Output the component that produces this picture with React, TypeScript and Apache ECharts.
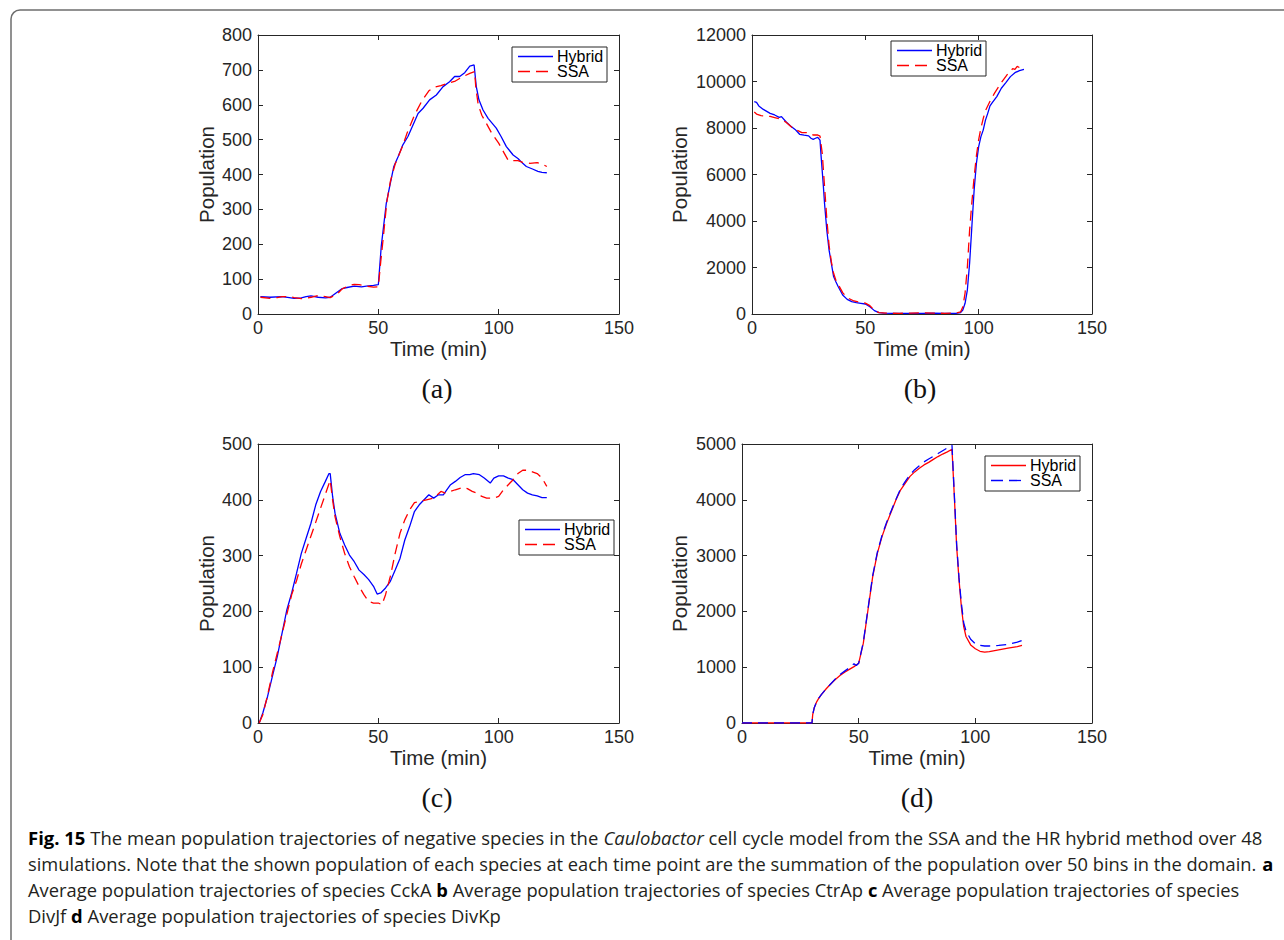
import React, { useEffect, useRef } from "react";
import * as echarts from "echarts";

// ---------- data ----------
const timeTicks = [0, 50, 100, 150];

// (a) CckA
const aHybridT = [1, 5, 10, 13, 15, 18, 20, 22, 25, 28, 30, 32, 35, 37, 40, 43, 45, 48, 50, 51.2, 53.3, 54.7, 56.4, 58.2, 60.2, 62.3, 64.4, 66.5, 68.6, 71.3, 74.1, 76.9, 79.6, 81.7, 83.8, 85.9, 88, 89.8, 90.7, 91.8, 93.5, 95.6, 99, 101, 103.2, 106, 108, 110, 111.5, 114.3, 116.3, 118, 120];
const aHybridV = [50, 48, 50, 47, 45, 46, 50, 52, 48, 46, 48, 58, 73, 76, 80, 78, 80, 82, 84, 193, 317, 365, 422, 451, 485, 509, 542, 575, 590, 614, 628, 652, 666, 681, 681, 692, 711, 714, 652, 614, 585, 561, 533, 509, 480, 456, 446, 432, 423, 415, 409, 406, 405];
const aSsaT = [1, 5, 8, 10, 13, 15, 18, 20, 22, 25, 28, 30, 33, 35, 38, 40, 42, 45, 48, 50, 51, 52, 53.5, 55, 57, 60, 62, 65, 68, 71, 73, 76, 79, 82, 85, 88, 90, 90.5, 91.5, 93, 95, 97, 100, 102, 104, 106, 108, 110, 113, 116, 118, 120];
const aSsaV = [48, 45, 47, 50, 50, 47, 44, 45, 48, 53, 50, 47, 58, 72, 82, 85, 84, 80, 77, 78, 150, 215, 320, 380, 430, 480, 520, 570, 610, 640, 650, 655, 662, 668, 680, 690, 695, 650, 600, 570, 545, 520, 490, 465, 440, 440, 440, 435, 432, 434, 430, 423];

// (b) CtrAp
const bHybridT = [1, 2, 3, 5, 8, 10, 12, 13, 15, 17, 19, 20, 21, 23, 25, 26, 27, 28, 29, 30, 30.5, 31.5, 32, 33, 34, 35, 36, 37, 38, 40, 42, 44, 46, 48, 50, 52, 54, 56, 58, 62, 66, 70, 75, 80, 85, 90, 92, 93, 94, 95, 96, 97, 98, 99, 100, 101, 102, 103, 104, 105, 106, 108, 110, 112, 114, 116, 118, 120];
const bHybridV = [9130, 9100, 8950, 8800, 8630, 8560, 8460, 8490, 8270, 8090, 7940, 7840, 7730, 7690, 7660, 7560, 7510, 7560, 7600, 7480, 6770, 5480, 4760, 3610, 2750, 2180, 1610, 1390, 1180, 820, 630, 530, 490, 460, 430, 315, 145, 60, 40, 30, 25, 25, 30, 40, 30, 30, 60, 170, 460, 1030, 2180, 3760, 5330, 6480, 7200, 7630, 7910, 8340, 8630, 8950, 9090, 9350, 9710, 9950, 10210, 10380, 10470, 10520];
const bSsaT = [1, 2, 4, 6, 8, 10, 12, 15, 18, 20, 22, 24, 25, 27, 29, 30, 31, 32, 33, 34, 35, 36, 37, 40, 42, 45, 48, 50, 52, 54, 56, 60, 65, 70, 75, 80, 85, 90, 92, 93, 94, 95, 96, 97, 98, 99, 100, 101, 102, 103, 105, 107, 110, 113, 115, 116, 117, 118, 119, 120];
const bSsaV = [8690, 8600, 8530, 8520, 8500, 8450, 8400, 8250, 8000, 7900, 7800, 7800, 7750, 7700, 7700, 7650, 6900, 5500, 4100, 2950, 2250, 1750, 1450, 920, 700, 560, 500, 470, 360, 160, 60, 35, 30, 40, 55, 35, 30, 40, 90, 300, 900, 2000, 3600, 4800, 5900, 6800, 7500, 8000, 8400, 8750, 9150, 9500, 9950, 10350, 10550, 10520, 10650, 10600, 10700, 10680];

// (c) DivJf
const cHybridT = [0.5, 2, 4, 6, 8, 10, 12, 14, 16, 18, 20, 22, 24, 26, 28, 29.5, 30, 31, 32, 34, 36, 38, 40, 42, 44, 46, 48, 49.5, 51, 53, 55, 57, 59, 61, 63, 65, 67, 69, 71, 73, 75, 77, 78, 80, 82, 84, 86, 88, 89.5, 92, 94, 96.5, 98, 100, 102, 104, 106, 108, 110, 112, 114, 116, 118, 120];
const cHybridV = [0, 18, 48, 84, 119, 161, 203, 233, 268, 304, 331, 358, 391, 415, 433, 447, 447, 406, 376, 340, 319, 301, 289, 274, 266, 257, 245, 231, 233, 242, 254, 274, 295, 328, 352, 379, 391, 400, 409, 403, 409, 409, 415, 427, 433, 440, 445, 445, 447, 445, 439, 430, 439, 443, 443, 439, 436, 427, 418, 412, 409, 407, 404, 404];
const cSsaT = [0.5, 2, 4, 6, 8, 10, 12, 14, 16, 18, 20, 22, 24, 26, 28, 30, 31, 32, 34, 36, 38, 40, 42, 44, 46, 48, 50, 51.5, 53, 55, 57, 59, 61, 63, 65, 67, 70, 73, 76, 78, 80, 82, 85, 87, 89, 91, 93, 95, 98, 100, 102, 104, 106, 108, 110, 112, 114, 116, 118, 120];
const cSsaV = [0, 15, 50, 90, 125, 160, 195, 230, 255, 285, 310, 335, 360, 385, 410, 435, 400, 370, 334, 304, 280, 262, 245, 230, 218, 215, 215, 212, 230, 263, 304, 340, 364, 382, 395, 397, 400, 403, 415, 412, 415, 418, 422, 420, 415, 412, 406, 403, 403, 406, 418, 427, 436, 447, 453, 453, 450, 447, 439, 424];

// (d) DivKp
const dHybridT = [0, 10, 20, 30, 30.3, 31, 32, 33, 34, 36, 38, 40, 42, 44, 46, 48, 50, 52, 54, 56, 58, 60, 62, 64, 66, 68, 70, 72, 74, 76, 78, 80, 82, 84, 86, 88, 90, 91, 92, 93, 94, 95, 96, 98, 100, 102, 104, 106, 110, 114, 118, 120];
const dHybridV = [0, 0, 0, 0, 150, 280, 380, 450, 510, 610, 700, 780, 850, 910, 960, 1010, 1070, 1430, 2030, 2620, 3040, 3340, 3580, 3790, 4000, 4180, 4300, 4420, 4500, 4565, 4625, 4670, 4725, 4775, 4820, 4860, 4905, 4060, 3160, 2570, 2090, 1730, 1550, 1400, 1330, 1285, 1270, 1280, 1310, 1340, 1370, 1390];
const dSsaT = [0, 10, 20, 30, 30.3, 31, 32, 33, 34, 36, 38, 40, 42, 44, 46, 48, 49, 50, 52, 54, 56, 58, 60, 62, 64, 66, 68, 70, 72, 74, 76, 78, 80, 82, 84, 86, 88, 90, 91, 92, 93, 94, 95, 96, 98, 100, 102, 104, 106, 110, 114, 118, 120];
const dSsaV = [0, 0, 0, 0, 150, 280, 380, 450, 510, 610, 700, 790, 870, 930, 990, 1060, 1030, 1070, 1450, 2050, 2640, 3060, 3360, 3600, 3810, 4010, 4200, 4330, 4450, 4540, 4610, 4680, 4730, 4780, 4830, 4880, 4930, 4975, 4100, 3200, 2600, 2150, 1800, 1650, 1500, 1420, 1390, 1380, 1380, 1390, 1410, 1450, 1480];

const panelLabels = ["(a)", "(b)", "(c)", "(d)"];
const legendNames = ["Hybrid", "SSA"];
const yMaxes = [800, 12000, 500, 5000];
const yIntervals = [100, 2000, 100, 1000];

type Seg = { t: string; s: "n" | "b" | "i" };
const captionLines: Seg[][] = [
  [{ t: "Fig. 15", s: "b" }, { t: " The mean population trajectories of negative species in the ", s: "n" }, { t: "Caulobactor", s: "i" }, { t: " cell cycle model from the SSA and the HR hybrid method over 48", s: "n" }],
  [{ t: "simulations. Note that the shown population of each species at each time point are the summation of the population over 50 bins in the domain. ", s: "n" }, { t: "a", s: "b" }],
  [{ t: "Average population trajectories of species CckA ", s: "n" }, { t: "b", s: "b" }, { t: " Average population trajectories of species CtrAp ", s: "n" }, { t: "c", s: "b" }, { t: " Average population trajectories of species", s: "n" }],
  [{ t: "DivJf ", s: "n" }, { t: "d", s: "b" }, { t: " Average population trajectories of species DivKp", s: "n" }],
];
const captionRight = [1263, 1273, 1239, 501];

// ---------- layout ----------
const grids = [
  { left: 258, top: 35, width: 361, height: 279 },
  { left: 752, top: 35, width: 340, height: 279 },
  { left: 258, top: 444, width: 361, height: 279 },
  { left: 742, top: 444, width: 350, height: 279 },
];
const yNameGaps = [41, 62, 41, 52];
const labelPos = [
  [437, 388],
  [920, 388],
  [437, 797],
  [917, 797],
];
const legendBoxes = [
  [512, 47],
  [891, 41],
  [519, 520],
  [985, 456],
];

const BLUE = "#0000ff";
const RED = "#ff0000";
const AX = "#262626";
const DASH = [10, 6];

function zip(t: number[], v: number[]) {
  return t.map((x, i) => [x, v[i]]);
}

export default function App() {
  const ref = useRef<HTMLDivElement>(null);
  useEffect(() => {
    if (!ref.current) return;
    const chart = echarts.init(ref.current, null, { renderer: "svg" });

    const data = [
      [zip(aHybridT, aHybridV), zip(aSsaT, aSsaV)],
      [zip(bHybridT, bHybridV), zip(bSsaT, bSsaV)],
      [zip(cHybridT, cHybridV), zip(cSsaT, cSsaV)],
      [zip(dHybridT, dHybridV), zip(dSsaT, dSsaV)],
    ];
    const colors = [
      [BLUE, RED],
      [BLUE, RED],
      [BLUE, RED],
      [RED, BLUE],
    ];

    const xAxis: any[] = [];
    const yAxis: any[] = [];
    const series: any[] = [];
    grids.forEach((g, i) => {
      const common = {
        gridIndex: i,
        type: "value",
        axisLine: { show: true, onZero: false, lineStyle: { color: AX, width: 1 } },
        axisTick: { show: true, inside: true, length: 5, lineStyle: { color: AX } },
        splitLine: { show: false },
      };
      xAxis.push({
        ...common,
        position: "bottom",
        min: 0,
        max: 150,
        interval: 50,
        name: "Time (min)",
        nameLocation: "middle",
        nameGap: 24,
        nameTextStyle: { fontFamily: "Liberation Sans", fontSize: 20.5, color: AX },
        axisLabel: { fontFamily: "Liberation Sans", fontSize: 18, color: AX, margin: 5, formatter: (v: number) => String(v) },
      });
      xAxis.push({ ...common, position: "top", min: 0, max: 150, interval: 50, axisLabel: { show: false } });
      yAxis.push({
        ...common,
        position: "left",
        min: 0,
        max: yMaxes[i],
        interval: yIntervals[i],
        name: "Population",
        nameLocation: "middle",
        nameGap: yNameGaps[i],
        nameTextStyle: { fontFamily: "Liberation Sans", fontSize: 20.5, color: AX },
        axisLabel: { fontFamily: "Liberation Sans", fontSize: 18, color: AX, margin: 6, formatter: (v: number) => String(v) },
      });
      yAxis.push({ ...common, position: "right", min: 0, max: yMaxes[i], interval: yIntervals[i], axisLabel: { show: false } });

      legendNames.forEach((nm, k) => {
        series.push({
          type: "line",
          name: nm,
          xAxisIndex: i * 2,
          yAxisIndex: i * 2,
          data: data[i][k],
          showSymbol: false,
          symbol: "none",
          lineStyle: { color: colors[i][k], width: 1.3, type: k === 0 ? "solid" : DASH },
          itemStyle: { color: colors[i][k] },
          z: 2 + k,
        });
      });
    });

    const graphic: any[] = [];
    // outer rounded frame
    graphic.push({
      type: "rect",
      shape: { x: 11, y: 10, width: 1320, height: 1000, r: 9 },
      style: { fill: "none", stroke: "#6e6e6e", lineWidth: 1.5 },
      silent: true,
    });
    // panel labels
    panelLabels.forEach((lb, i) => {
      graphic.push({
        type: "text",
        x: labelPos[i][0],
        y: labelPos[i][1],
        style: { text: lb, fontFamily: "Liberation Serif", fontSize: 28, fill: "#111", align: "center", verticalAlign: "middle" },
      });
    });
    // legends
    legendBoxes.forEach(([bx, by], i) => {
      const children: any[] = [
        { type: "rect", shape: { x: 0, y: 0, width: 95, height: 35 }, style: { fill: "#fff", stroke: AX, lineWidth: 1 } },
      ];
      legendNames.forEach((nm, k) => {
        const ry = 9.5 + k * 15;
        children.push({
          type: "line",
          shape: { x1: 6, y1: ry, x2: 41, y2: ry },
          style: { stroke: colors[i][k], lineWidth: 1.3, lineDash: k === 0 ? null : [12, 6] },
        });
        children.push({
          type: "text",
          x: 45,
          y: ry,
          style: { text: nm, fontFamily: "Liberation Sans", fontSize: 16, fill: "#000", align: "left", verticalAlign: "middle" },
        });
      });
      graphic.push({ type: "group", x: bx, y: by, z: 10, children });
    });

    // caption
    const ctx = document.createElement("canvas").getContext("2d")!;
    const fs = 18;
    const fontOf = (s: string) =>
      `${s === "i" ? "italic " : ""}${s === "b" ? "bold " : ""}${fs}px "Open Sans"`;
    captionLines.forEach((segs, li) => {
      let w = 0;
      let txt = "";
      segs.forEach((sg) => {
        ctx.font = fontOf(sg.s);
        w += ctx.measureText(sg.t).width;
        txt += sg.s === "n" ? sg.t : `{${sg.s}|${sg.t}}`;
      });
      const left = 28;
      const sx = (captionRight[li] - left) / w;
      graphic.push({
        type: "text",
        x: left,
        y: 838 + li * 26,
        scaleX: sx,
        style: {
          text: txt,
          fontFamily: "Open Sans",
          fontSize: fs,
          fill: "#231f20",
          align: "left",
          verticalAlign: "middle",
          rich: {
            b: { fontFamily: "Open Sans", fontSize: fs, fontWeight: "bold", fill: "#000" },
            i: { fontFamily: "Open Sans", fontSize: fs, fontStyle: "italic", fill: "#231f20" },
          },
        },
      });
    });

    chart.setOption({
      animation: false,
      backgroundColor: "#ffffff",
      grid: grids.map((g) => ({ ...g, containLabel: false })),
      xAxis,
      yAxis,
      series,
      graphic,
    });
    return () => chart.dispose();
  }, []);

  return (
    <div
      ref={ref}
      style={{ position: "absolute", left: 0, top: 0, width: 1284, height: 940, background: "#fff" }}
    />
  );
}
